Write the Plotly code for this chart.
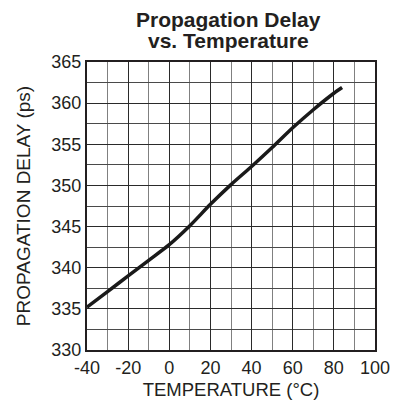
import plotly.graph_objects as go

temperature = [-40, -30, -20, -10, 0, 10, 20, 30, 40, 50, 60, 70, 80, 84]
delay_ps = [335.2, 337.1, 339.0, 340.9, 342.8, 345.1, 347.7, 350.1, 352.3, 354.6, 357.0, 359.2, 361.2, 361.9]

x_ticks = [-40, -20, 0, 20, 40, 60, 80, 100]
y_ticks = [330, 335, 340, 345, 350, 355, 360, 365]
title_lines = ["Propagation Delay", "vs. Temperature"]

font = "Liberation Sans, Arial, Helvetica, sans-serif"
ink = "#231f20"

fig = go.Figure()
fig.add_trace(go.Scatter(x=temperature, y=delay_ps, mode="lines",
                         line=dict(color="#1a1a1a", width=3.5, shape="spline", smoothing=0.8),
                         showlegend=False))

# page is drawn with an 8px body offset, margins compensate for it
fig.update_layout(
    width=404, height=409,
    margin=dict(l=79, r=37, t=54, b=67, autoexpand=False),
    paper_bgcolor="white", plot_bgcolor="white",
    font=dict(family=font, color=ink),
)
fig.add_annotation(text="<b>" + title_lines[0] + "</b>", xref="paper", yref="paper",
                   x=0.49, y=1.0, yshift=29, xanchor="center", yanchor="bottom",
                   showarrow=False, font=dict(family=font, size=21, color=ink))
fig.add_annotation(text="<b>" + title_lines[1] + "</b>", xref="paper", yref="paper",
                   x=0.49, y=1.0, yshift=8, xanchor="center", yanchor="bottom",
                   showarrow=False, font=dict(family=font, size=21, color=ink))
fig.update_xaxes(
    range=[-40, 100], tickvals=x_ticks, ticktext=[str(v) for v in x_ticks],
    showgrid=True, gridcolor="#2a2a2a", gridwidth=1,
    minor=dict(dtick=10, showgrid=True, gridcolor="#808080", gridwidth=1),
    showline=True, linecolor=ink, linewidth=2, mirror=True,
    ticks="", tickfont=dict(size=18), automargin=False,
    title=dict(text="TEMPERATURE (°C)", font=dict(size=18.5), standoff=6),
    zeroline=False,
)
fig.update_yaxes(
    range=[330, 365], tickvals=y_ticks, ticktext=[str(v) for v in y_ticks],
    showgrid=True, gridcolor="#2a2a2a", gridwidth=1,
    minor=dict(dtick=2.5, showgrid=True, gridcolor="#4a4a4a", gridwidth=1),
    showline=True, linecolor=ink, linewidth=2, mirror=True,
    ticks="", tickfont=dict(size=18), automargin=False,
    title=dict(text="PROPAGATION DELAY (ps)", font=dict(size=19), standoff=16),
    zeroline=False,
)

fig.write_html("out.html")
